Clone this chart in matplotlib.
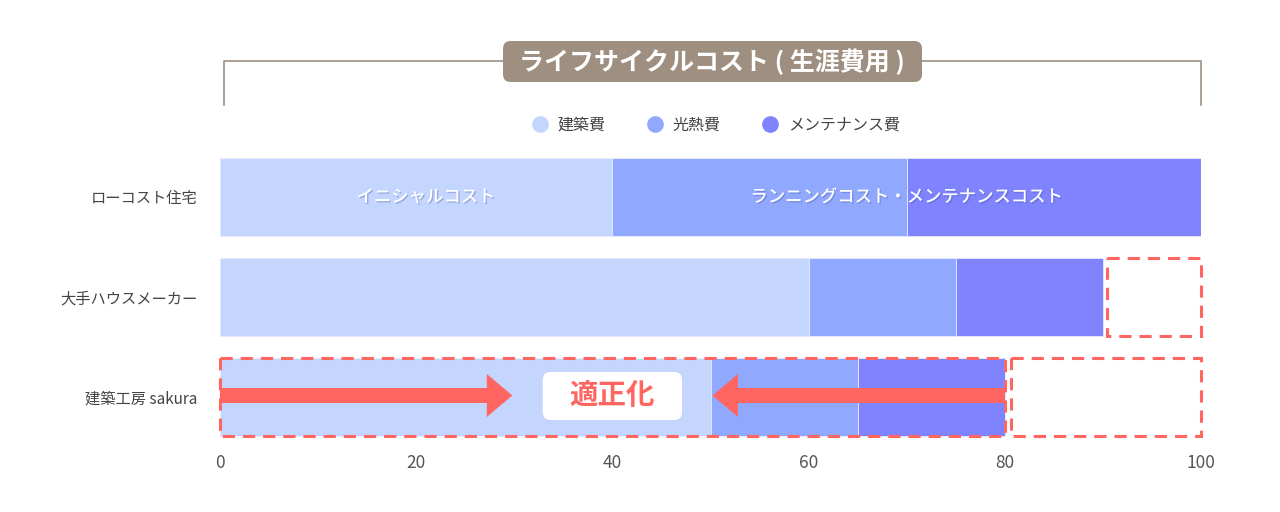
# Life-cycle cost comparison: stacked horizontal bars with callout decorations.

import matplotlib.pyplot as plt
import matplotlib.patheffects as pe
from matplotlib.lines import Line2D
from matplotlib.patches import FancyBboxPatch, Rectangle, FancyArrow

plt.rcParams['font.family'] = ['Noto Sans CJK JP', 'DejaVu Sans']

# Data
categories = ['ローコスト住宅', '大手ハウスメーカー', '建築工房 sakura']
series_names = ['建築費', '光熱費', 'メンテナンス費']
construction = [40, 60, 50]
utilities = [30, 15, 15]
maintenance = [30, 15, 15]
xticks = [0, 20, 40, 60, 80, 100]

colors = ['#C4D5FE', '#90A8FE', '#7F83FE']
red = '#FF6661'
brown = '#9E8F80'

fig = plt.figure(figsize=(12.8, 5.12), dpi=100)
ax = fig.add_axes([220 / 1280, 1 - 447 / 512, 981 / 1280, 300 / 512])

ypos = list(range(len(categories)))
bar_h = 0.78
left = [0] * len(categories)
for vals, col in zip([construction, utilities, maintenance], colors):
    ax.barh(ypos, vals, left=left, height=bar_h, color=col,
            edgecolor='#E6EBFF', linewidth=0.6)
    left = [a + b for a, b in zip(left, vals)]
totals = left

ax.set_xlim(0, 100)
ax.set_ylim(2.5, -0.5)
ax.set_xticks(xticks)
ax.set_xticklabels([str(t) for t in xticks], fontsize=12.5, color='#555555')
ax.set_yticks(ypos)
ax.set_yticklabels(categories, fontsize=11, color='#444444')
ax.tick_params(axis='both', length=0)
ax.tick_params(axis='y', pad=16)
ax.tick_params(axis='x', pad=5)
for s in ax.spines.values():
    s.set_visible(False)

# Labels inside the first bar
shadow = [pe.SimplePatchShadow(offset=(1, -1), shadow_rgbFace='#4050a0', alpha=0.3),
          pe.Normal()]
ax.text(construction[0] / 2 + 1, 0, 'イニシャルコスト', ha='center', va='center',
        color='white', fontsize=12.5, fontweight='medium', path_effects=shadow)
ax.text(construction[0] + (utilities[0] + maintenance[0]) / 2, 0,
        'ランニングコスト・メンテナンスコスト', ha='center', va='center',
        color='white', fontsize=12.5, fontweight='medium', path_effects=shadow)

# Dashed boxes showing the gap to 100
dash = (0, (4, 2.6))
ax.add_patch(Rectangle((totals[1] + 0.4, 1 - bar_h / 2), 100 - totals[1] - 0.4, bar_h,
                       fill=False, edgecolor=red, lw=2.2, linestyle=dash, clip_on=False))
ax.add_patch(Rectangle((0, 2 - bar_h / 2), totals[2], bar_h,
                       fill=False, edgecolor=red, lw=2.2, linestyle=dash, clip_on=False))
ax.add_patch(Rectangle((totals[2] + 0.6, 2 - bar_h / 2), 100 - totals[2] - 0.6, bar_h,
                       fill=False, edgecolor=red, lw=2.2, linestyle=dash, clip_on=False))

# Arrows pointing inward
ax.add_patch(FancyArrow(0, 1.985, 29.8, 0, width=0.15, head_width=0.43,
                        head_length=2.6, length_includes_head=True,
                        color=red, lw=0, clip_on=False))
ax.add_patch(FancyArrow(totals[2], 1.985, -(totals[2] - 50.2), 0, width=0.15,
                        head_width=0.43, head_length=2.6, length_includes_head=True,
                        color=red, lw=0, clip_on=False))

# 適正化 label
ax.add_patch(FancyBboxPatch((32.9, 1.75), 14.2, 0.48,
                            boxstyle='round,pad=0,rounding_size=0.8',
                            facecolor='white', edgecolor='none', mutation_aspect=0.1))
ax.text(40, 1.99, '適正化', ha='center', va='center', color=red,
        fontsize=20.5, fontweight='bold')

# Title bracket
bx0, bx1 = 224 / 1280, 1201 / 1280
by_top, by_bot = 1 - 61 / 512, 1 - 105 / 512
fig.add_artist(Line2D([bx0, bx0, 503 / 1280], [by_bot, by_top, by_top],
                      color=brown, lw=1.2))
fig.add_artist(Line2D([922 / 1280, bx1, bx1], [by_top, by_top, by_bot],
                      color=brown, lw=1.2))
fig.add_artist(FancyBboxPatch((503 / 1280, 1 - 82 / 512), 419 / 1280, 41 / 512,
                              boxstyle='round,pad=0,rounding_size=0.006',
                              transform=fig.transFigure, facecolor=brown,
                              edgecolor='none', mutation_aspect=2.5))
fig.text(712 / 1280, 1 - 62 / 512, 'ライフサイクルコスト ( 生涯費用 )', ha='center',
         va='center', color='white', fontsize=18, fontweight='bold')

# Legend
handles = [Line2D([], [], marker='o', linestyle='none', markersize=12,
                  markerfacecolor=c, markeredgecolor='none') for c in colors]
fig.legend(handles, series_names, loc='center', ncol=3, frameon=False,
           bbox_to_anchor=(712 / 1280, 1 - 125 / 512), fontsize=11.5,
           handletextpad=0.1, columnspacing=2.1, labelcolor='#444444')

fig.savefig('out.png', dpi=100)
